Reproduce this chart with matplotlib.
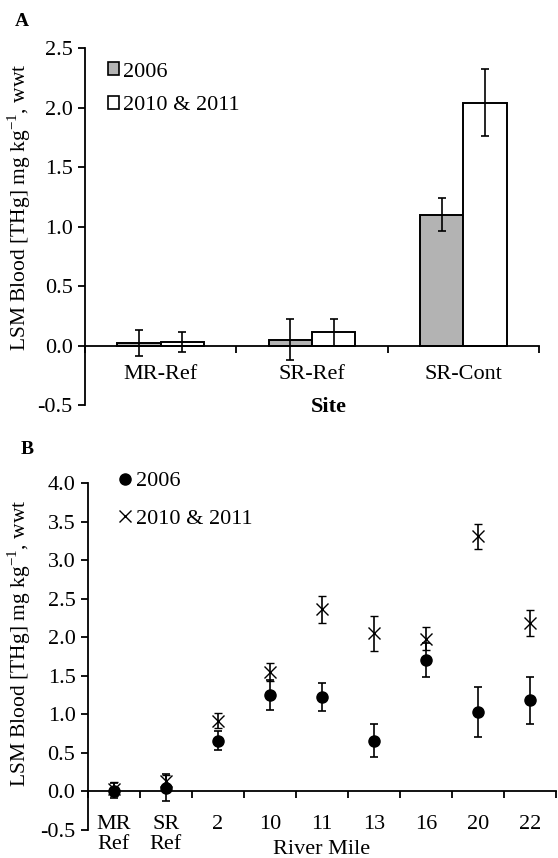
import matplotlib
matplotlib.use('Agg')
import matplotlib.pyplot as plt
from matplotlib.patches import Patch
from matplotlib.lines import Line2D
import numpy as np

plt.rcParams['font.family'] = 'Liberation Serif'
plt.rcParams['mathtext.fontset'] = 'custom'
plt.rcParams['mathtext.rm'] = 'Liberation Serif'
plt.rcParams['axes.unicode_minus'] = False
plt.rcParams['font.size'] = 16

# panel A data
sites = ['MR-Ref', 'SR-Ref', 'SR-Cont']
a_2006 = [0.02, 0.05, 1.10]
a_2006_err = [0.11, 0.17, 0.14]
a_2010 = [0.03, 0.11, 2.04]
a_2010_err = [0.085, 0.11, 0.28]

# panel B data
miles = ['MR\nRef', 'SR\nRef', '2', '10', '11', '13', '16', '20', '22']
b_2006 = [0.01, 0.05, 0.66, 1.25, 1.22, 0.66, 1.71, 1.03, 1.18]
b_2006_err = [0.10, 0.17, 0.12, 0.19, 0.18, 0.21, 0.22, 0.33, 0.31]
b_2010 = [0.03, 0.13, 0.92, 1.55, 2.36, 2.05, 1.98, 3.31, 2.18]
b_2010_err = [0.09, 0.08, 0.10, 0.12, 0.18, 0.23, 0.15, 0.16, 0.17]

ylab = 'LSM Blood [THg] mg kg$^{\\mathrm{-1}}$, wwt'
gray = '#b3b3b3'
W, H = 558, 858


def style_axes(ax, n, labels, pad):
    ax.spines['top'].set_visible(False)
    ax.spines['right'].set_visible(False)
    ax.spines['bottom'].set_position(('data', 0))
    for s in ['left', 'bottom']:
        ax.spines[s].set_linewidth(1.3)
    ax.set_xlim(0, n)
    ax.set_xticks(np.arange(n + 1))
    ax.set_xticklabels([])
    ax.set_xticks(np.arange(n) + 0.5, minor=True)
    ax.set_xticklabels(labels, minor=True, linespacing=1.1)
    ax.tick_params(axis='x', which='major', length=5, width=1.3, direction='out')
    ax.tick_params(axis='x', which='minor', length=0, pad=pad)
    ax.tick_params(axis='y', length=5, width=1.3, direction='out', pad=4)
    ax.yaxis.set_major_formatter(matplotlib.ticker.FormatStrFormatter('%.1f'))


fig = plt.figure(figsize=(W / 100, H / 100), dpi=100)

# ---- A ----
axA = fig.add_axes([85 / W, 1 - 405 / H, 454 / W, 357 / H])
x = np.arange(len(sites)) + 0.5
w = 0.286
axA.bar(x - w / 2, a_2006, w, color=gray, edgecolor='black', linewidth=1.4, zorder=2)
axA.bar(x + w / 2, a_2010, w, color='white', edgecolor='black', linewidth=1.4, zorder=2)
axA.errorbar(x - w / 2, a_2006, yerr=a_2006_err, fmt='none', ecolor='black',
             elinewidth=1.2, capsize=2.8, capthick=1.2, zorder=3)
axA.errorbar(x + w / 2, a_2010, yerr=a_2010_err, fmt='none', ecolor='black',
             elinewidth=1.2, capsize=2.8, capthick=1.2, zorder=3)
axA.set_ylim(-0.5, 2.5)
axA.set_yticks(np.arange(-0.5, 2.51, 0.5))
style_axes(axA, 3, sites, 14)
axA.legend(handles=[Patch(facecolor=gray, edgecolor='black', linewidth=1.2, label='2006'),
                    Patch(facecolor='white', edgecolor='black', linewidth=1.2, label='2010 & 2011')],
           loc='upper left', bbox_to_anchor=(0.05, 0.96), frameon=False, borderaxespad=0,
           borderpad=0, handlelength=0.5, handleheight=0.5, handletextpad=0.2,
           labelspacing=0.65)

fig.text(329 / W, 1 - 407 / H, 'Site', ha='center', va='center', fontweight='bold')
fig.text(22 / W, 1 - 21 / H, 'A', ha='center', va='center', fontweight='bold', fontsize=14)
fig.text(19 / W, 1 - 207 / H, ylab, rotation=90, ha='center', va='center', fontsize=15.5)

# ---- B ----
axB = fig.add_axes([88 / W, 1 - 830 / H, 468 / W, 347 / H])
xb = np.arange(len(miles)) + 0.5
axB.errorbar(xb, b_2006, yerr=b_2006_err, fmt='o', color='black', markersize=8,
             elinewidth=1.2, capsize=2.6, capthick=1.2, zorder=3)
axB.errorbar(xb, b_2010, yerr=b_2010_err, fmt='x', color='black', markersize=8, mew=1.0,
             elinewidth=1.2, capsize=2.6, capthick=1.2, zorder=3)
axB.set_ylim(-0.5, 4.0)
axB.set_yticks(np.arange(-0.5, 4.01, 0.5))
style_axes(axB, 9, miles, 17)
axB.legend(handles=[Line2D([], [], marker='o', color='black', linestyle='none', markersize=8, label='2006'),
                    Line2D([], [], marker='x', color='black', linestyle='none', markersize=8,
                           mew=1.0, label='2010 & 2011')],
           loc='upper left', bbox_to_anchor=(0.065, 1.035), frameon=False, borderaxespad=0,
           borderpad=0, handlelength=0.6, handletextpad=0.2, labelspacing=0.75)

fig.text(27 / W, 1 - 450 / H, 'B', ha='center', va='center', fontweight='bold', fontsize=14)
fig.text(19 / W, 1 - 643 / H, ylab, rotation=90, ha='center', va='center', fontsize=15.5)
fig.text(322 / W, 1 - 849 / H, 'River Mile', ha='center', va='center')

fig.savefig('out.png', dpi=100)
